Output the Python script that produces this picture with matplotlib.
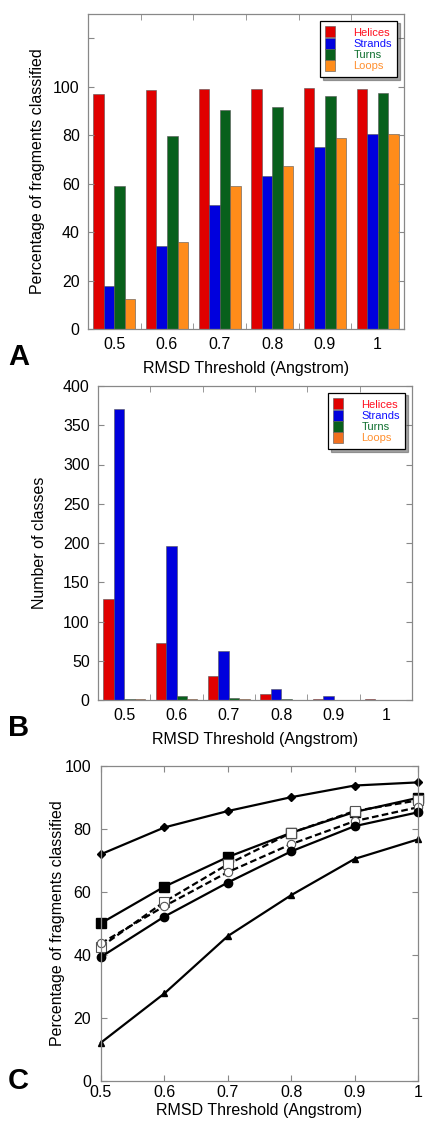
import matplotlib
matplotlib.use("Agg")
import matplotlib.pyplot as plt
import numpy as np

plt.rcParams['font.family'] = ['Liberation Sans', 'DejaVu Sans']

thresholds = ["0.5", "0.6", "0.7", "0.8", "0.9", "1"]
categories = ["Helices", "Strands", "Turns", "Loops"]

# Panel A: percentage of fragments classified
a_helices = [96.8, 98.6, 99.2, 99.2, 99.6, 98.9]
a_strands = [17.6, 34.3, 51.0, 63.2, 75.3, 80.6]
a_turns = [59.1, 79.7, 90.4, 91.8, 96.3, 97.3]
a_loops = [12.5, 36.0, 59.2, 67.3, 78.7, 80.4]

# Panel B: number of classes
b_helices = [129, 72, 30.5, 7.6, 1.5, 1.5]
b_strands = [371, 196, 63, 14.4, 5.5, 0]
b_turns = [1.5, 5.5, 2, 1.5, 0, 0]
b_loops = [1, 1.5, 1, 0, 0, 0]

# Panel C: lines
c_x = [0.5, 0.6, 0.7, 0.8, 0.9, 1.0]
c_xlabels = ["0.5", "0.6", "0.7", "0.8", "0.9", "1"]
c_diamond = [72.0, 80.5, 85.7, 90.1, 93.8, 94.8]
c_fsquare = [50.1, 61.7, 71.1, 78.8, 85.4, 89.9]
c_osquare = [42.6, 56.9, 68.8, 78.8, 85.7, 89.1]
c_ocircle = [43.7, 55.5, 66.3, 75.2, 82.5, 86.9]
c_fcircle = [39.4, 52.2, 63.0, 72.9, 80.9, 85.3]
c_triangle = [12.2, 27.8, 46.0, 59.0, 70.5, 76.7]

colors_a = ["#e00000", "#0000dd", "#08601c", "#ff8c1a"]
colors_b = ["#e00000", "#0000dd", "#08601c", "#f07020"]
text_colors = ["#ff1020", "#1010ff", "#107030", "#ff9030"]

W, H = 428, 1125
fig = plt.figure(figsize=(W / 100, H / 100), dpi=100)

def ax_rect(l, r, t, b):
    return [l / W, 1 - b / H, (r - l) / W, (b - t) / H]

spine_c = "#888888"

def style_axes(ax):
    for s in ax.spines.values():
        s.set_color(spine_c)
        s.set_linewidth(0.9)
    ax.tick_params(direction="in", length=4, color=spine_c, labelsize=11.5,
                   right=True, top=False, width=0.8)

def bar_panel(ax, series, colors, ylim, yticks, yticklabels, ylabel, ylab_x, xlab_y):
    x = np.arange(len(thresholds))
    w = 0.2
    for i, (vals, c) in enumerate(zip(series, colors)):
        ax.bar(x + (i - 1.5) * w, vals, w, color=c, edgecolor="#555555",
               linewidth=0.4, label=categories[i])
    ax.set_xlim(-0.5, len(thresholds) - 0.5)
    ax.set_ylim(*ylim)
    ax.set_xticks(x)
    ax.set_xticklabels(thresholds)
    ax.set_xticks(np.arange(0.5, len(thresholds) - 0.5, 1), minor=True)
    ax.set_yticks(yticks)
    ax.set_yticklabels(yticklabels)
    style_axes(ax)
    ax.tick_params(axis="y", pad=6)
    ax.tick_params(axis="x", which="major", length=0, pad=6)
    ax.tick_params(axis="x", which="minor", direction="in", length=4,
                   color=spine_c, top=True, bottom=True)
    ax.set_xlabel("RMSD Threshold (Angstrom)", fontsize=11.5)
    ax.set_ylabel(ylabel, fontsize=11.5)
    ax.yaxis.set_label_coords(ylab_x, 0.5)
    ax.xaxis.set_label_coords(0.5, xlab_y)
    leg = ax.legend(loc="upper right", fontsize=8, frameon=True, fancybox=False,
                    shadow=True, handlelength=0.9, handleheight=1.15,
                    labelspacing=0.0, handletextpad=1.6, borderpad=0.5,
                    borderaxespad=0.6, edgecolor="black")
    leg.get_frame().set_linewidth(0.9)
    for t, c in zip(leg.get_texts(), text_colors):
        t.set_color(c)

# Panel A
axA = fig.add_axes(ax_rect(88, 404, 14, 329))
bar_panel(axA, [a_helices, a_strands, a_turns, a_loops], colors_a, (0, 130),
          [0, 20, 40, 60, 80, 100, 120], ["0", "20", "40", "60", "80", "100", ""],
          "Percentage of fragments classified", -0.136, -32 / 315)

# Panel B
axB = fig.add_axes(ax_rect(98, 412, 386, 700))
bar_panel(axB, [b_helices, b_strands, b_turns, b_loops], colors_b, (0, 400),
          list(range(0, 401, 50)), [str(v) for v in range(0, 401, 50)],
          "Number of classes", -0.163, -32 / 314)

# Panel C
axC = fig.add_axes(ax_rect(101, 418, 766, 1081))
lw = 1.6
axC.plot(c_x, c_diamond, "-", color="black", lw=lw, marker="D", ms=4, mfc="black")
axC.plot(c_x, c_fsquare, "-", color="black", lw=lw, marker="s", ms=6.5, mfc="black")
axC.plot(c_x, c_osquare, "--", color="black", lw=lw, marker="s", ms=6.5, mfc="white",
         mec="#555555", mew=0.8, dashes=(3, 1.5))
axC.plot(c_x, c_ocircle, "--", color="black", lw=lw, marker="o", ms=6, mfc="white",
         mec="#555555", mew=0.8, dashes=(3, 1.5))
axC.plot(c_x, c_fcircle, "-", color="black", lw=lw, marker="o", ms=6, mfc="black")
axC.plot(c_x, c_triangle, "-", color="black", lw=lw, marker="^", ms=5, mfc="black")
axC.set_xlim(0.5, 1.0)
axC.set_ylim(0, 100)
axC.set_xticks(c_x)
axC.set_xticklabels(c_xlabels)
axC.set_yticks([0, 20, 40, 60, 80, 100])
style_axes(axC)
axC.tick_params(axis="y", pad=7)
axC.tick_params(axis="x", top=True, direction="in", pad=3)
axC.set_xlabel("RMSD Threshold (Angstrom)", fontsize=11.5)
axC.set_ylabel("Percentage of fragments classified", fontsize=11.5)
axC.yaxis.set_label_coords(-0.112, 0.5)
axC.xaxis.set_label_coords(0.5, -22 / 315)
for line in axC.lines:
    line.set_clip_on(False)

# Panel letters
for letter, y in [("A", 357), ("B", 728), ("C", 1081)]:
    fig.text(8 / W, 1 - y / H, letter, fontsize=21, fontweight="bold",
             ha="left", va="center")

fig.savefig("out.png", dpi=100)
